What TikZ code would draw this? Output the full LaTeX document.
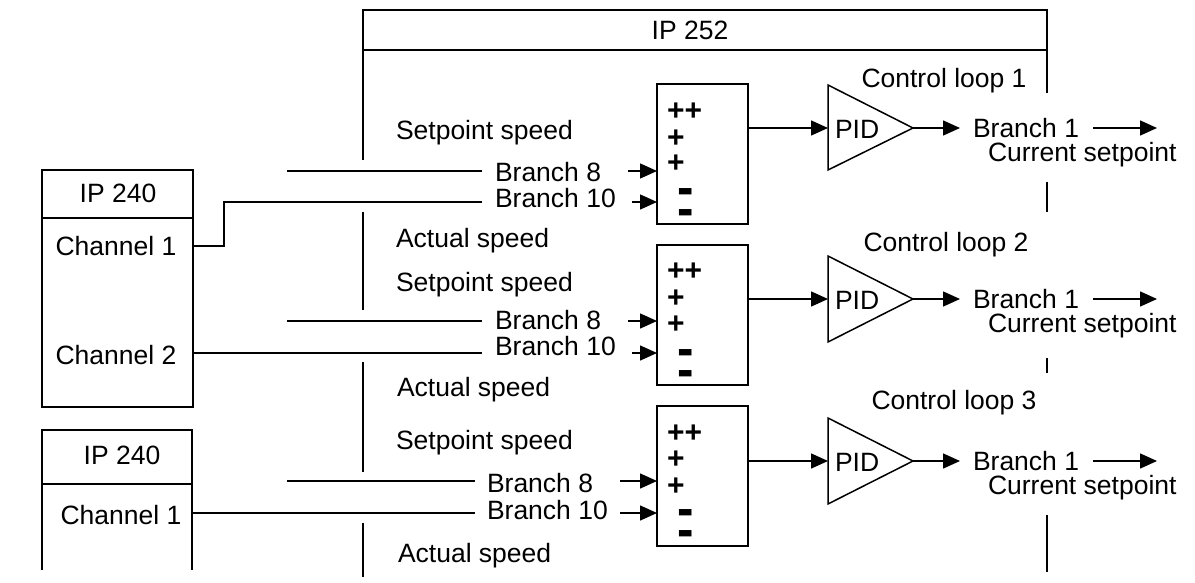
\documentclass[tikz,border=0pt]{standalone}
\usepackage{fontspec}
\usepackage{graphicx}
\setmainfont{Liberation Sans}
\usetikzlibrary{arrows.meta}
\begin{document}
\begin{tikzpicture}[x=0.5pt,y=-0.5pt,
  every node/.style={inner sep=0pt,outer sep=0pt,font=\fontsize{13.25}{15}\selectfont,text height=9.5pt,text depth=0pt},
  ln/.style={line width=0.75pt},
  arr/.style={line width=0.75pt,-{Triangle[length=8.5pt,width=7.5pt]}},
  lbl/.style={anchor=west},
  sgn/.style={anchor=west,font=\fontsize{15}{16}\selectfont\bfseries,text height=10.6pt},
  mns/.style={anchor=west,font=\fontsize{19}{20}\selectfont\bfseries,text height=13.8pt},
  sumbox/.style={draw,line width=0.75pt,minimum width=45.5pt,minimum height=70pt,anchor=north west},
  ipbox/.style={draw,line width=0.75pt,minimum width=75.5pt,minimum height=118.5pt,anchor=north west}
]
\newcommand{\mysub}{\scalebox{1.3}[1.4]{-}}
\fill[white] (0,0) rectangle (1195,583);
\useasboundingbox (0,0) rectangle (1195,583);

% ---------- IP 252 frame ----------
\draw[ln] (363,160) -- (363,10) -- (1047,10) -- (1047,93);
\draw[ln] (363,50) -- (1047,50);
\node (ip252) at (690,30) {IP 252};
\draw[ln] (363,212) -- (363,310);
\draw[ln] (363,362) -- (363,472);
\draw[ln] (363,523) -- (363,577);
\draw[ln] (1047,182) -- (1047,212);
\draw[ln] (1047,358) -- (1047,373);
\draw[ln] (1047,515) -- (1047,572);

% ---------- IP 240 (first) ----------
\node[ipbox] (ipa) at (42,170) {};
\draw[ln] (42,218) -- (193,218);
\node (ipatxt) at (118,193) {IP 240};
\node (ch1atxt) at (116,246) {Channel 1};
\node (ch2atxt) at (116,355) {Channel 2};
\coordinate (ch1a) at (193,246);
\coordinate (ch2a) at (193,353);

% ---------- IP 240 (second) ----------
\draw[ln] (42,570) -- (42,430) -- (192,430) -- (192,570);
\draw[ln] (42,484) -- (192,484);
\node (ipbtxt) at (122,455) {IP 240};
\node (ch1btxt) at (121,515) {Channel 1};
\coordinate (ch1b) at (192,513);

% ================= Control loop 1 =================
\node[lbl] (sp1) at (396,130) {Setpoint speed};
\node[lbl] (act1) at (396,238) {Actual speed};
\node[sumbox] (s1) at (657,84) {};
\node[sgn] (s1a) at (667,110) {++};
\node[sgn] (s1b) at (667,137) {+};
\node[sgn] (s1c) at (667,162) {+};
\node[mns] (s1d) at (677,192) {\mysub};
\node[mns] (s1e) at (677,213) {\mysub};
\node[lbl] (b8a) at (495,172) {Branch 8};
\node[lbl] (b10a) at (495,198) {Branch 10};
\coordinate (b8a-s) at (287,171);
\coordinate (b8a-e) at (482,171);
\coordinate (b10a-e) at (482,202);
\draw[ln] (b8a-s) -- (b8a-e);
\draw[ln] (ch1a) -- ++(31,0) |- (b10a-e);
\coordinate (b8a-t) at (628,171);
\coordinate (b10a-t) at (632,202);
\draw[arr] (b8a-t) -- (s1.west |- b8a-t);
\draw[arr] (b10a-t) -- (s1.west |- b10a-t);
\coordinate (p1in) at (828,128);
\coordinate (p1out) at (913,128);
\draw[ln] (828,85) -- (p1out) -- (828,170) -- cycle;
\node[lbl] (pid1) at (835,129) {PID};
\draw[arr] (s1.east |- p1in) -- (p1in);
\coordinate (o1) at (960,128);
\draw[arr] (p1out) -- (o1);
\node[lbl] (br1a) at (973,128) {Branch 1};
\coordinate (r1s) at (1093,128);
\coordinate (r1e) at (1157,128);
\draw[arr] (r1s) -- (r1e);
\node[lbl] (cs1) at (988,152) {Current setpoint};
\node (cl1) at (944,78) {Control loop 1};

% ================= Control loop 2 =================
\node[lbl] (sp2) at (396,282) {Setpoint speed};
\node[lbl] (act2) at (397,387) {Actual speed};
\node[sumbox] (s2) at (657,245) {};
\node[sgn] (s2a) at (667,270) {++};
\node[sgn] (s2b) at (667,297) {+};
\node[sgn] (s2c) at (667,323) {+};
\node[mns] (s2d) at (677,353) {\mysub};
\node[mns] (s2e) at (677,374) {\mysub};
\node[lbl] (b8b) at (495,320) {Branch 8};
\node[lbl] (b10b) at (495,346) {Branch 10};
\coordinate (b8b-s) at (287,321);
\coordinate (b8b-e) at (482,321);
\coordinate (b10b-e) at (482,353);
\draw[ln] (b8b-s) -- (b8b-e);
\draw[ln] (ch2a) -- (b10b-e);
\coordinate (b8b-t) at (628,321);
\coordinate (b10b-t) at (632,353);
\draw[arr] (b8b-t) -- (s2.west |- b8b-t);
\draw[arr] (b10b-t) -- (s2.west |- b10b-t);
\coordinate (p2in) at (828,299);
\coordinate (p2out) at (913,299);
\draw[ln] (828,256) -- (p2out) -- (828,342) -- cycle;
\node[lbl] (pid2) at (835,300) {PID};
\draw[arr] (s2.east |- p2in) -- (p2in);
\coordinate (o2) at (960,299);
\draw[arr] (p2out) -- (o2);
\node[lbl] (br1b) at (973,299) {Branch 1};
\coordinate (r2s) at (1093,299);
\coordinate (r2e) at (1157,299);
\draw[arr] (r2s) -- (r2e);
\node[lbl] (cs2) at (988,323) {Current setpoint};
\node (cl2) at (946,242) {Control loop 2};

% ================= Control loop 3 =================
\node[lbl] (sp3) at (396,440) {Setpoint speed};
\node[lbl] (act3) at (398,553) {Actual speed};
\node[sumbox] (s3) at (657,406) {};
\node[sgn] (s3a) at (667,432) {++};
\node[sgn] (s3b) at (667,458) {+};
\node[sgn] (s3c) at (667,485) {+};
\node[mns] (s3d) at (677,513) {\mysub};
\node[mns] (s3e) at (677,534) {\mysub};
\node[lbl] (b8c) at (487,483) {Branch 8};
\node[lbl] (b10c) at (487,510) {Branch 10};
\coordinate (b8c-s) at (287,481);
\coordinate (b8c-e) at (475,481);
\coordinate (b10c-e) at (475,513);
\draw[ln] (b8c-s) -- (b8c-e);
\draw[ln] (ch1b) -- (b10c-e);
\coordinate (b8c-t) at (620,481);
\coordinate (b10c-t) at (620,513);
\draw[arr] (b8c-t) -- (s3.west |- b8c-t);
\draw[arr] (b10c-t) -- (s3.west |- b10c-t);
\coordinate (p3in) at (828,461);
\coordinate (p3out) at (913,461);
\draw[ln] (828,418) -- (p3out) -- (828,504) -- cycle;
\node[lbl] (pid3) at (835,462) {PID};
\draw[arr] (s3.east |- p3in) -- (p3in);
\coordinate (o3) at (960,461);
\draw[arr] (p3out) -- (o3);
\node[lbl] (br1c) at (973,461) {Branch 1};
\coordinate (r3s) at (1093,461);
\coordinate (r3e) at (1157,461);
\draw[arr] (r3s) -- (r3e);
\node[lbl] (cs3) at (988,485) {Current setpoint};
\node (cl3) at (954,400) {Control loop 3};
\end{tikzpicture}
\end{document}
